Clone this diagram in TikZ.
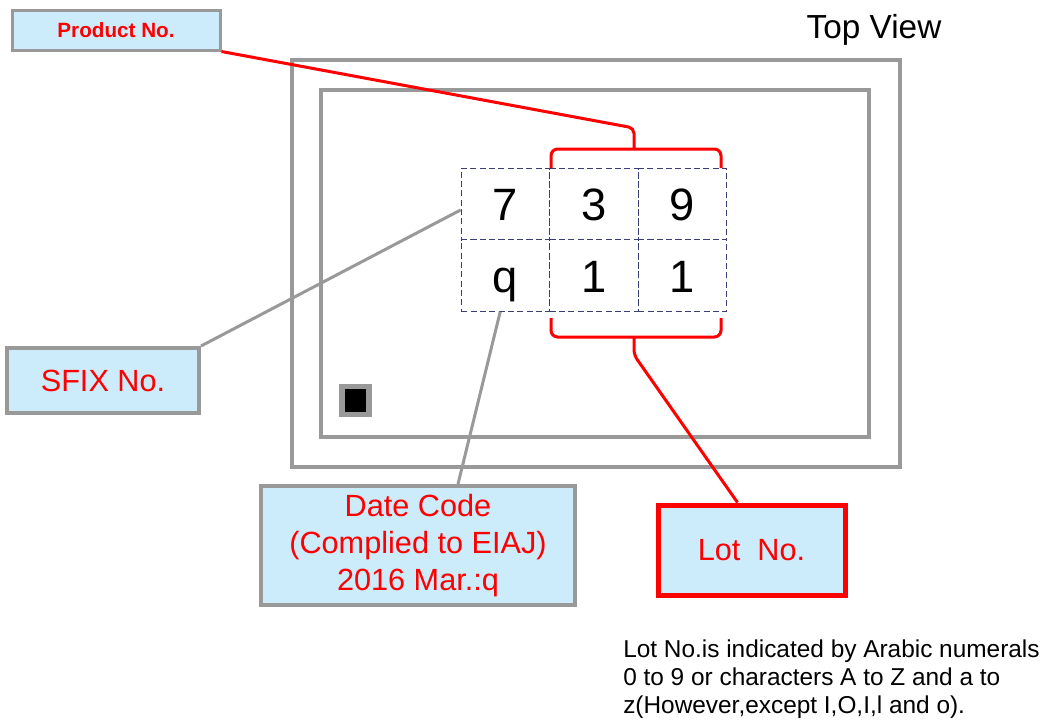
\documentclass[tikz,border=0pt]{standalone}
\usepackage{fontspec}
\setmainfont{Liberation Sans}
\definecolor{boxfill}{HTML}{CCEBFB}
\definecolor{boxgray}{HTML}{999999}
\definecolor{cellblue}{HTML}{3C3C78}
\begin{document}
\begin{tikzpicture}[x=0.75pt, y=-0.75pt,
    labelbox/.style={draw=boxgray, line width=3pt, fill=boxfill, text=red,
        inner sep=0pt, align=center, font=\fontsize{23}{27.6}\selectfont},
    cell/.style={draw=cellblue, line width=1pt, dash pattern=on 4.5pt off 2.5pt,
        minimum width=66.4pt, minimum height=53.6pt, inner sep=0pt,
        text height=25pt, text depth=0pt, font=\fontsize{34}{40}\selectfont},
    grayline/.style={boxgray, line width=2.25pt},
    redline/.style={red, line width=2.25pt}]
    \fill[white] (0,0) rectangle (1048,722);
    \useasboundingbox (0,0) rectangle (1048,722);

    % Package outline
    \draw[boxgray, line width=3pt] (292,60) rectangle (900,467);
    \draw[boxgray, line width=3pt] (321,90) rectangle (869,437);
    \node[font=\fontsize{25}{30}\selectfont] (top) at (874,30) {Top View};

    % Pin 1 mark
    \fill[boxgray] (339,384) rectangle (372,417);
    \fill[black] (345,389) rectangle (366,412);

    % Marking cells
    \foreach \d [count=\i] in {7,3,9} {
        \node[cell] (t\i) at (417+88.5*\i, 204) {\d};
    }
    \foreach \d [count=\i] in {q,1,1} {
        \node[cell] (b\i) at (417+88.5*\i, 275.5) {\d};
    }

    % Labels
    \node[labelbox, line width=2.25pt, minimum width=156pt, minimum height=30pt,
        font=\bfseries\fontsize{15.5}{18}\selectfont] (pn) at (116,30) {Product No.};
    \node[labelbox, minimum width=144pt, minimum height=48.75pt] (sfix) at (103,380.5) {SFIX No.};
    \node[labelbox, minimum width=235.5pt, minimum height=89.25pt] (date) at (418,545.5)
        {Date Code\\(Complied to EIAJ)\\2016 Mar.:q};
    \node[labelbox, draw=red, line width=3.75pt, minimum width=140.25pt, minimum height=67.5pt]
        (lot) at (751.5,550) {Lot~ No.};

    % Braces
    \draw[redline, rounded corners=5pt] (551,168) -- (551,149) -- (721,149) -- (721,168);
    \draw[redline, rounded corners=5pt] (551,318) -- (551,337) -- (721,337) -- (721,318);
    \coordinate (pnbrace) at (634,128);
    \coordinate (lotbrace) at (634,355);

    % Connectors
    \draw[redline, rounded corners=4pt] (pn.south east) -- (pnbrace) -- (634,149);
    \draw[redline, rounded corners=4pt] (634,337) -- (lotbrace) -- ([xshift=-10.5pt]lot.north);
    \draw[grayline] ([yshift=-4.5pt]t1.west) -- (sfix.north east);
    \draw[grayline] ([xshift=-4pt]b1.south) -- ([xshift=30pt]date.north);

    % Note
    \node[anchor=north west, align=left, inner sep=0pt, font=\fontsize{18.3}{21}\selectfont]
        (note) at (623,640) {Lot No.is indicated by Arabic numerals\\0 to 9 or characters A to Z and a to\\z(However,except I,O,I,l and o).};
\end{tikzpicture}
\end{document}
